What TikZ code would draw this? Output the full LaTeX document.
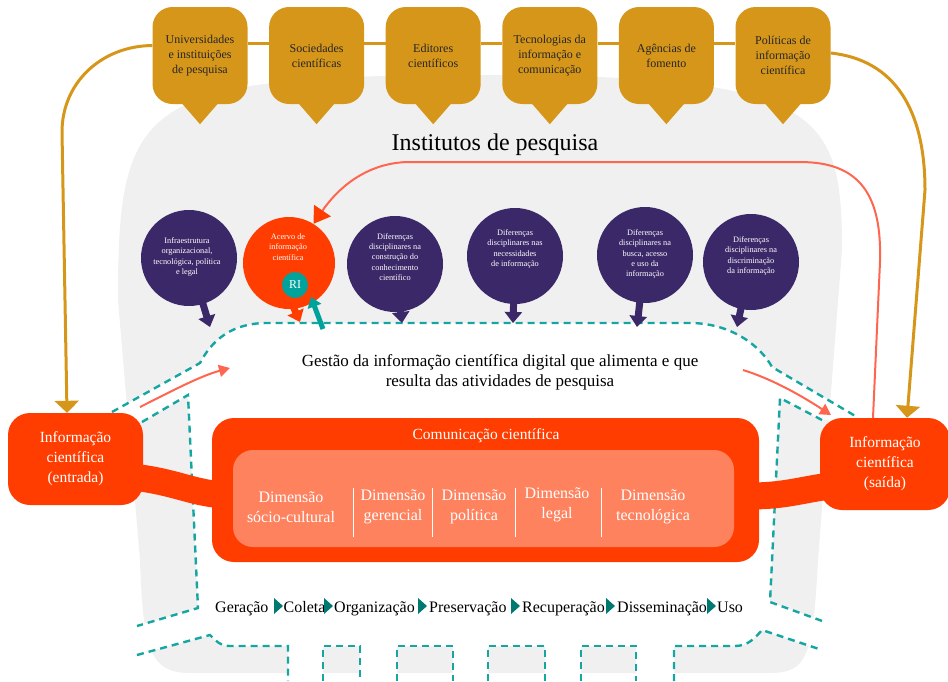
\documentclass[tikz,border=0pt]{standalone}
\usepackage{fontspec}
\setmainfont{Liberation Serif}
\usetikzlibrary{arrows.meta,positioning,calc}
\definecolor{gold}{RGB}{214,150,26}
\definecolor{redor}{RGB}{255,61,0}
\definecolor{salmon}{RGB}{255,130,94}
\definecolor{coral}{RGB}{255,102,80}
\definecolor{plum}{RGB}{58,40,104}
\definecolor{tealdash}{RGB}{22,166,162}
\definecolor{tealri}{RGB}{0,163,155}
\definecolor{tealdk}{RGB}{0,122,112}
\definecolor{bggray}{RGB}{240,240,240}
\tikzset{
  actor/.style={rectangle, rounded corners=20pt, fill=gold, minimum width=95pt, minimum height=97pt,
                align=center, inner sep=2pt, text=black!85, font=\fontsize{12}{15}\selectfont},
  infobox/.style={rectangle, rounded corners=22pt, fill=redor, align=center, text=white,
                  font=\fontsize{15.5}{20}\selectfont},
  disc/.style={circle, fill=plum, minimum size=96pt, inner sep=0pt},
  disctxt/.style={align=center, text=white, inner sep=0pt, font=\fontsize{8.3}{10.3}\selectfont},
  tail/.style={line width=7pt, -{Triangle[width=17pt,length=11pt]}},
  goldln/.style={gold, line width=3pt},
  goldar/.style={goldln, -{Triangle[width=24pt,length=12pt]}},
  thinar/.style={coral, line width=2pt, -{Triangle[width=12pt,length=11pt]}},
  pipe/.style={tealdash, line width=2.4pt, dash pattern=on 7pt off 5pt},
  dimtxt/.style={align=center, text=white, inner sep=0pt, font=\fontsize{16}{20}\selectfont},
  stage/.style={anchor=base west, inner sep=0pt, font=\fontsize{16}{18}\selectfont},
  sep/.style={white, line width=1pt},
}

\begin{document}
\begin{tikzpicture}[x=1pt,y=-1pt]
\useasboundingbox (0,0) rectangle (948,681);

% institutes background
\fill[bggray] (140,560) -- (118,300) .. controls (118,100) and (140,75) .. (480,75)
  .. controls (820,75) and (842,110) .. (842,250) -- (818,560)
  .. controls (813,655) and (808,673) .. (770,673) -- (190,673)
  .. controls (150,673) and (143,650) .. (140,560) -- cycle;

% management area
\fill[white] (112,412) -- (200,363) .. controls (212,340) and (232,323) .. (267,323) -- (690,323)
  .. controls (730,323) and (760,345) .. (772,367) -- (857,417) -- (822,420) -- (780,398)
  -- (770,602) -- (825,622) -- (822,650) -- (762,630) .. controls (755,638) and (748,646) .. (735,646)
  -- (674,646) -- (674,681) -- (636,681) -- (636,646) -- (581,646) -- (581,681) -- (545,681)
  -- (545,646) -- (488,646) -- (488,681) -- (453,681) -- (453,646) -- (397,646) -- (397,681)
  -- (360,681) -- (360,646) -- (323,646) -- (323,681) -- (288,681) -- (288,646) -- (230,646)
  .. controls (220,646) and (215,640) .. (210,635) -- (137,655) -- (137,626) -- (198,608)
  -- (188,395) -- (142,422) -- cycle;

\draw[pipe] (112,412) -- (200,363) .. controls (212,340) and (232,323) .. (267,323) -- (690,323)
  .. controls (730,323) and (760,345) .. (772,367) -- (857,417);
\draw[pipe] (142,422) -- (188,395) -- (198,608) -- (137,626);
\draw[pipe] (137,655) -- (210,635) .. controls (215,640) and (220,646) .. (230,646) -- (288,646) -- (288,681);
\foreach \a/\b in {323/360,397/453,488/545,581/636}
  \draw[pipe] (\a,681) -- (\a,646) -- (\b,646) -- (\b,681);
\draw[pipe] (674,681) -- (674,646) -- (735,646) .. controls (748,646) and (755,638) .. (762,630) -- (822,650);
\draw[pipe] (822,420) -- (780,398) -- (770,602) -- (825,622);

% top actors
\node[actor] (a1) at (200,55.5) {Universidades\\e instituições\\de pesquisa};
\node[actor, right=21.2pt of a1] (a2) {Sociedades\\científicas};
\node[actor, right=21.2pt of a2] (a3) {Editores\\científicos};
\node[actor, right=21.2pt of a3] (a4) {Tecnologias da\\informação e\\comunicação};
\node[actor, right=21.2pt of a4] (a5) {Agências de\\fomento};
\node[actor, right=21.2pt of a5] (a6) {Políticas de\\informação\\científica};
\foreach \n in {a1,a2,a3,a4,a5,a6}
  \fill[gold] ([xshift=-20pt,yshift=3pt]\n.south) -- ([xshift=20pt,yshift=3pt]\n.south) -- ([yshift=-20pt]\n.south) -- cycle;
\foreach \p/\q in {a1/a2,a2/a3,a3/a4,a4/a5,a5/a6}
  \draw[goldln] ([yshift=12.5pt]\p.east) -- ([yshift=12.5pt]\q.west);

\node[font=\fontsize{24}{28}\selectfont] (inst) at (495,145) {Institutos de pesquisa};

% input / output
\node[infobox, minimum width=135pt, minimum height=92pt] (en) at (75.5,459) {Informação\\científica\\(entrada)};
\node[infobox, minimum width=130pt, minimum height=92pt] (ex) at (885,464) {Informação\\científica\\(saída)};
\draw[goldar] ([yshift=10pt]a1.west) .. controls (101,46) and (62,83) .. (62,132) -- ([xshift=-8.5pt]en.north);
\draw[goldar] ([yshift=2.5pt]a6.east) .. controls (895,60) and (925,110) .. (925,190) -- ([xshift=22pt]ex.north);

% scientific communication
\node[infobox, minimum width=547pt, minimum height=144pt] (comm) at (485.5,490) {};
\draw[redor, line width=27pt] ([xshift=-10pt,yshift=-18pt]en.east) .. controls (175,482) and (190,492) .. ([xshift=10pt,yshift=-5pt]comm.west);
\draw[redor, line width=27pt] ([xshift=-10pt,yshift=-6pt]comm.east) .. controls (785,496) and (800,490) .. ([xshift=10pt,yshift=-22pt]ex.west);
\node[text=white, font=\fontsize{15.5}{18}\selectfont] (commt) at (486,436) {Comunicação científica};
\node[rectangle, rounded corners=20pt, fill=salmon, minimum width=501pt, minimum height=97pt] (dims) at (483.5,498.5) {};
\node[dimtxt] (d1) at (291,507) {Dimensão\\sócio-cultural};
\node[dimtxt] (d2) at (393,507) {Dimensão\\gerencial};
\node[dimtxt] (d3) at (474,507) {Dimensão\\política};
\node[dimtxt] (d4) at (557,505) {Dimensão\\legal};
\node[dimtxt] (d5) at (653,507) {Dimensão\\tecnológica};
\foreach \x in {353,432,515,601}
  \draw[sep] (\x,488) -- (\x,537);

% flows in and out
\coordinate (inA) at (140,407);
\coordinate (inB) at (230,368);
\coordinate (outA) at (743,370);
\coordinate (outB) at (831,415);
\draw[thinar] (inA) .. controls (170,392) and (200,376) .. (inB);
\draw[thinar] (outA) .. controls (775,380) and (805,398) .. (outB);

% circles
\coordinate (t1) at (210,327);
\coordinate (t2) at (300,322);
\coordinate (t3) at (402,323);
\coordinate (t4) at (513,323);
\coordinate (t5) at (637,327);
\coordinate (t6) at (737,327);
\coordinate (c1) at (189,258);
\coordinate (c3) at (395,264);
\coordinate (c4) at (515,256);
\coordinate (c5) at (645,255);
\coordinate (c6) at (751,262);
\foreach \c/\t in {c1/t1,c3/t3,c4/t4,c5/t5,c6/t6}
  \draw[tail, plum] (\c) -- (\t);
\draw[tail, redor] (289,297) -- (t2);

\node[disc] (k1) at (c1) {};
\node[disc, fill=redor, minimum size=92pt] (ac) at (289,263) {};
\node[disc] (k3) at (c3) {};
\node[disc] (k4) at (c4) {};
\node[disc] (k5) at (c5) {};
\node[disc] (k6) at (c6) {};
\node[disctxt] (k1t) at (187,257) {Infraestrutura\\organizacional,\\tecnológica, política\\e legal};
\node[disctxt] (act) at (288,247) {Acervo de\\informação\\científica};
\node[disctxt] (k3t) at (395,257) {Diferenças\\disciplinares na\\construção do\\conhecimento\\científico};
\node[disctxt] (k4t) at (515,249) {Diferenças\\disciplinares nas\\necessidades\\de informação};
\node[disctxt] (k5t) at (645,254) {Diferenças\\disciplinares na\\busca, acesso\\e uso da\\informação};
\node[disctxt] (k6t) at (751,256) {Diferenças\\disciplinares na\\discriminação\\da informação};
\node[circle, fill=tealri, minimum size=26pt, inner sep=0pt, text=white, font=\fontsize{12}{12}\selectfont] (ri) at (295,285) {RI};
\coordinate (riA) at (323,329);
\coordinate (riB) at (311,297);
\draw[tealri, line width=5pt, -{Triangle[width=14pt,length=10pt]}] (riA) -- (riB);

% feedback to the collection
\draw[coral, line width=2pt, -{Triangle[width=20pt,length=16pt,color=redor]}] ([xshift=-12pt]ex.north) -- (880,262)
  .. controls (882,195) and (860,162) .. (800,162) -- (410,162) .. controls (370,162) and (340,185) .. (ac.58);

\node[align=center, font=\fontsize{17}{20}\selectfont] (gest) at (500,372) {Gestão da informação científica digital que alimenta e que\\resulta das atividades de pesquisa};

% life cycle
\foreach \n/\x/\w in {g1/215/Geração, g2/283.5/Coleta, g3/334/Organização, g4/429/Preservação,
                      g5/522/Recuperação, g6/617/Disseminação, g7/717/Uso}
  \node[stage] (\n) at (\x,612) {\w};
\foreach \x in {274,324,418,511,606,707}
  \fill[tealdk] (\x,598) -- (\x,614) -- (\x+9,606) -- cycle;
\end{tikzpicture}
\end{document}
